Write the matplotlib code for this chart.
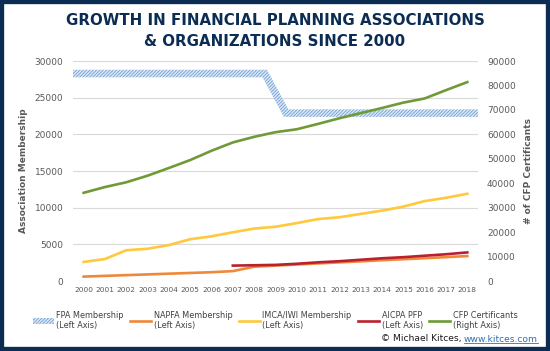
import numpy as np
import matplotlib.pyplot as plt
from matplotlib.patches import Polygon, Rectangle
from matplotlib.lines import Line2D
from matplotlib.transforms import IdentityTransform

years = [str(y) for y in range(2000, 2019)]
# FPA band is drawn at the category edges (20 points, left edge to right edge)
fpa_edges = [28300, 28300, 28300, 28300, 28300, 28300, 28300, 28300, 28300, 28300,
             22900, 22900, 22900, 22900, 22900, 22900, 22900, 22900, 22900, 22900]
napfa = [600, 700, 800, 900, 1000, 1100, 1200, 1350, 1950, 2100,
         2250, 2400, 2540, 2680, 2830, 2970, 3110, 3260, 3400]
imca = [2600, 3000, 4200, 4400, 4900, 5700, 6100, 6650, 7150, 7400,
        7900, 8450, 8700, 9150, 9600, 10150, 10900, 11350, 11900]
aicpa = [np.nan, np.nan, np.nan, np.nan, np.nan, np.nan, np.nan, 2100, 2150, 2200,
         2350, 2550, 2700, 2900, 3100, 3250, 3450, 3650, 3900]
cfp = [36100, 38450, 40400, 43100, 46250, 49500, 53300, 56700, 59000, 60900,
       62100, 64300, 66600, 68700, 70800, 73000, 74700, 78100, 81400]

NAVY = '#0c2d53'
GREY = '#595959'
C_FPA = '#6f9fd6'
C_NAPFA = '#f0883a'
C_IMCA = '#ffc83d'
C_AICPA = '#b9212e'
C_CFP = '#6f9a37'

plt.rcParams['font.family'] = 'DejaVu Sans'
plt.rcParams['hatch.linewidth'] = 0.6

fig = plt.figure(figsize=(5.5, 3.51), dpi=100)
fig.patches.append(Rectangle((0, 0), 1, 1, transform=fig.transFigure, fill=False,
                             edgecolor=NAVY, linewidth=6, zorder=10))

ax = fig.add_axes([0.1327, 0.1994, 0.7363, 0.6266])
ax2 = ax.twinx()

x = np.arange(len(years))
ax.set_xlim(-0.5, len(years) - 0.5)
ax.set_ylim(0, 30000)
ax2.set_ylim(0, 90000)
ax.set_yticks(range(0, 30001, 5000))
ax2.set_yticks(range(0, 90001, 10000))
ax.set_xticks(x)
ax.set_xticklabels(years)

for a in (ax, ax2):
    for s in a.spines.values():
        s.set_visible(False)
    a.tick_params(length=0, colors=GREY)
ax.tick_params(axis='y', labelsize=6.5, pad=7)
ax2.tick_params(axis='y', labelsize=6.5, pad=6.5)
ax.tick_params(axis='x', labelsize=5.3, pad=4)
ax.grid(axis='y', color='#d9d9d9', linewidth=0.8)
ax.set_axisbelow(True)


def thick_band(axis, xs, ys, width_px, **kw):
    # turn a polyline into a stroked polygon so it can carry a hatch
    pts = axis.transData.transform(np.column_stack([xs, ys]))
    d = np.diff(pts, axis=0)
    d = d / np.linalg.norm(d, axis=1)[:, None]
    n = np.column_stack([-d[:, 1], d[:, 0]])
    offs = []
    for i in range(len(pts)):
        if i == 0:
            m = n[0]
        elif i == len(pts) - 1:
            m = n[-1]
        else:
            m = n[i - 1] + n[i]
            m = m / np.linalg.norm(m)
            m = m / np.dot(m, n[i])
        offs.append(m * width_px / 2)
    offs = np.array(offs)
    verts = np.vstack([pts + offs, (pts - offs)[::-1]])
    poly = Polygon(verts, closed=True, transform=IdentityTransform(), **kw)
    axis.add_patch(poly)
    return poly


fpa_x = np.arange(len(fpa_edges)) - 0.5
fpa_patch = thick_band(ax, fpa_x, fpa_edges, 7.5, facecolor='#dde8f5', edgecolor=C_FPA,
                       hatch='//////////', linewidth=0, label='FPA Membership\n(Left Axis)')
fpa_patch.set_clip_path(ax.patch)

l1, = ax.plot(x, napfa, color=C_NAPFA, lw=1.9, label='NAPFA Membership\n(Left Axis)')
l2, = ax.plot(x, imca, color=C_IMCA, lw=1.9, label='IMCA/IWI Membership\n(Left Axis)')
l3, = ax.plot(x, aicpa, color=C_AICPA, lw=1.9, label='AICPA PFP\n(Left Axis)')
l4, = ax2.plot(x, cfp, color=C_CFP, lw=1.9, label='CFP Certificants\n(Right Axis)')

ax.set_ylabel('Association Membership', fontsize=6.5, fontweight='bold', color=GREY, labelpad=5)
ax2.set_ylabel('# of CFP Certificants', fontsize=6.5, fontweight='bold', color=GREY, labelpad=6)

leg = fig.legend([fpa_patch, l1, l2, l3, l4],
                 [h.get_label() for h in (fpa_patch, l1, l2, l3, l4)],
                 loc='upper center', bbox_to_anchor=(0.5, 0.136), ncol=5, frameon=False,
                 fontsize=5.9, handlelength=2.6, handletextpad=0.3, columnspacing=0.75,
                 labelcolor='#404040', labelspacing=0.3)

fig.text(0.5, 0.962, 'GROWTH IN FINANCIAL PLANNING ASSOCIATIONS\n& ORGANIZATIONS SINCE 2000',
         ha='center', va='top', fontsize=10.8, fontweight='bold', color=NAVY,
         linespacing=1.5)

url = fig.text(538 / 550, 1 - 339 / 351, 'www.kitces.com', ha='right', va='center',
               fontsize=6.6, color='#2e6fb5')
fig.canvas.draw()
bb = url.get_window_extent()
fig.text(bb.x0 / 550, 1 - 339 / 351, '\u00a9 Michael Kitces, ', ha='right', va='center',
         fontsize=6.6, color='#1a1a1a')
fig.add_artist(Line2D([bb.x0 / 550, bb.x1 / 550], [(bb.y0 + 0.5) / 351] * 2,
                      color='#2e6fb5', lw=0.6))

fig.savefig('out.png', dpi=100)
